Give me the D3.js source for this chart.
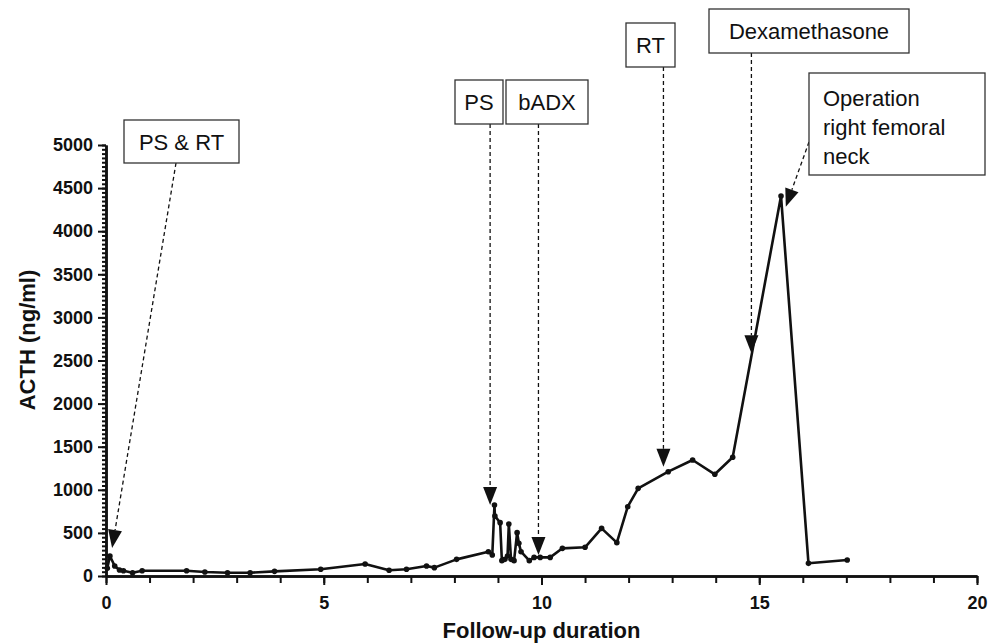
<!DOCTYPE html>
<html>
<head>
<meta charset="utf-8">
<script src="https://cdn.jsdelivr.net/npm/d3@7"></script>
<style>
    body { margin: 0; background: #fff; }
    text { font-family: "Liberation Sans", Arial, Helvetica, sans-serif; }
</style>
</head>
<body>
<div id="chart"></div>
<script>
// follow-up duration (x) and ACTH level (y)
const followUp = [0.03, 0.09, 0.2, 0.31, 0.4, 0.61, 0.83, 1.85, 2.27, 2.79, 3.31, 3.87, 4.93,
    5.95, 6.5, 6.9, 7.36, 7.54, 8.05, 8.78, 8.87, 8.92, 8.93, 9.05, 9.09, 9.16, 9.22, 9.25,
    9.3, 9.37, 9.44, 9.48, 9.53, 9.72, 9.83, 9.97, 10.2, 10.48, 11.0, 11.38, 11.73, 11.98,
    12.22, 12.91, 13.47, 13.98, 14.39, 15.5, 16.13, 17.02];
const acth = [89, 232, 116, 70, 61, 38, 61, 61, 46, 38, 38, 54, 78,
    139, 66, 78, 116, 97, 193, 282, 244, 824, 696, 619, 178, 193, 232, 603,
    193, 178, 503, 379, 282, 178, 216, 216, 216, 321, 333, 553, 387, 804,
    1017, 1210, 1346, 1180, 1377, 4408, 147, 185];

const xTicks = [0, 5, 10, 15, 20];
const yTicks = [0, 500, 1000, 1500, 2000, 2500, 3000, 3500, 4000, 4500, 5000];

// events: label text and the point the arrow ends on (data units)
const eventLabels = [["PS & RT"], ["PS"], ["bADX"], ["RT"], ["Dexamethasone"], ["Operation", "right femoral", "neck"]];
const eventX = [0.14, 8.82, 9.93, 12.8, 14.82, 15.61];
const eventY = [325, 824, 244, 1268, 2584, 4284];

const config = {
    width: 998,
    height: 644,
    margin: { top: 145, left: 106, bottom: 68, right: 21 },
    lineColor: '#111',
    lineWidth: 2.6,
    dotRadius: 2.8,
    axisWidth: 2.5,
    tickFont: 'bold 18px "Liberation Sans", Arial, sans-serif',
    titleFont: 'bold 22px "Liberation Sans", Arial, sans-serif',
    boxFont: '22px "Liberation Sans", Arial, sans-serif',
    headLen: 18,
    headHalf: 7,
};

// box placement (pixels) and where the dashed arrow leaves the box
const boxes = [
    { x: 124, y: 120, w: 115, h: 43, ax: 176, ay: 163 },
    { x: 455, y: 80, w: 48, h: 44, ax: null, ay: 124 },
    { x: 506, y: 80, w: 82, h: 44, ax: null, ay: 124 },
    { x: 626, y: 23, w: 49, h: 44, ax: null, ay: 67 },
    { x: 709, y: 9, w: 200, h: 44, ax: null, ay: 53 },
    { x: 809, y: 73, w: 176, h: 102, ax: 809, ay: 142, multi: true },
];

const svg = d3.select("#chart")
    .append("svg")
    .attr("width", config.width)
    .attr("height", config.height);

const scale_x = d3.scaleLinear()
    .domain([0, 20])
    .range([config.margin.left, config.width - config.margin.right]);
const scale_y = d3.scaleLinear()
    .domain([0, 5000])
    .range([config.height - config.margin.bottom, config.margin.top]);

const bottomY = config.height - config.margin.bottom;

// axes: minor ticks first, then labelled ones on top
const g_axisX = svg.append("g").attr("transform", `translate(0, ${bottomY})`);
g_axisX.append("g")
    .call(d3.axisBottom(scale_x).tickValues(d3.range(0, 21, 1)).tickFormat("").tickSize(7).tickSizeOuter(0));
g_axisX.append("g")
    .call(d3.axisBottom(scale_x).tickValues(xTicks).tickFormat(d3.format("d"))
        .tickSize(9).tickSizeOuter(0).tickPadding(11));

const g_axisY = svg.append("g").attr("transform", `translate(${config.margin.left}, 0)`);
g_axisY.append("g")
    .call(d3.axisLeft(scale_y).tickValues(d3.range(0, 5001, 50)).tickFormat("").tickSize(4).tickSizeOuter(0));
g_axisY.append("g")
    .call(d3.axisLeft(scale_y).tickValues(yTicks).tickFormat(d3.format("d"))
        .tickSize(8).tickSizeOuter(0).tickPadding(5));

svg.selectAll(".domain").attr("stroke", "#111").attr("stroke-width", config.axisWidth);
svg.selectAll(".tick line").attr("stroke", "#111").attr("stroke-width", 2);
svg.selectAll(".tick text")
    .style("font", config.tickFont)
    .attr("fill", "#111");

// axis titles
svg.append("text")
    .attr("x", (scale_x(0) + scale_x(20)) / 2)
    .attr("y", 638)
    .attr("text-anchor", "middle")
    .style("font", config.titleFont)
    .attr("fill", "#111")
    .text("Follow-up duration");
svg.append("text")
    .attr("transform", `translate(35, 340) rotate(-90)`)
    .attr("text-anchor", "middle")
    .style("font", config.titleFont)
    .attr("fill", "#111")
    .text("ACTH (ng/ml)");

// data line and points
const points = followUp.map((v, i) => [v, acth[i]]);
const line = d3.line()
    .x(d => scale_x(d[0]))
    .y(d => scale_y(d[1]));
svg.append("path")
    .datum(points)
    .attr("d", line)
    .attr("fill", "none")
    .attr("stroke", config.lineColor)
    .attr("stroke-width", config.lineWidth)
    .attr("stroke-linejoin", "round");
svg.append("g")
    .selectAll("circle")
    .data(points)
    .join("circle")
    .attr("cx", d => scale_x(d[0]))
    .attr("cy", d => scale_y(d[1]))
    .attr("r", config.dotRadius)
    .attr("fill", config.lineColor);

// event boxes with dashed arrows
const g_events = svg.append("g");
eventLabels.forEach((lines, i) => {
    const b = boxes[i];
    const tx = scale_x(eventX[i]);
    const ty = scale_y(eventY[i]);
    const sx = b.ax === null ? tx : b.ax;
    const sy = b.ay;
    const len = Math.hypot(tx - sx, ty - sy);
    const ux = (tx - sx) / len, uy = (ty - sy) / len;
    const bx = tx - ux * config.headLen, by = ty - uy * config.headLen;

    g_events.append("line")
        .attr("x1", sx).attr("y1", sy)
        .attr("x2", bx).attr("y2", by)
        .attr("stroke", "#111")
        .attr("stroke-width", 1.3)
        .attr("stroke-dasharray", "4,3");
    g_events.append("path")
        .attr("d", `M${tx},${ty}L${bx - uy * config.headHalf},${by + ux * config.headHalf}` +
            `L${bx + uy * config.headHalf},${by - ux * config.headHalf}Z`)
        .attr("fill", "#111");

    g_events.append("rect")
        .attr("x", b.x).attr("y", b.y)
        .attr("width", b.w).attr("height", b.h)
        .attr("fill", "#fff")
        .attr("stroke", "#333")
        .attr("stroke-width", 1.3);

    if (b.multi) {
        lines.forEach((t, k) => {
            g_events.append("text")
                .attr("x", b.x + 14)
                .attr("y", 106 + k * 29)
                .style("font", config.boxFont)
                .attr("fill", "#111")
                .text(t);
        });
    } else {
        g_events.append("text")
            .attr("x", b.x + b.w / 2)
            .attr("y", b.y + b.h / 2 + 8)
            .attr("text-anchor", "middle")
            .style("font", config.boxFont)
            .attr("fill", "#111")
            .text(lines[0]);
    }
});
</script>
</body>
</html>
